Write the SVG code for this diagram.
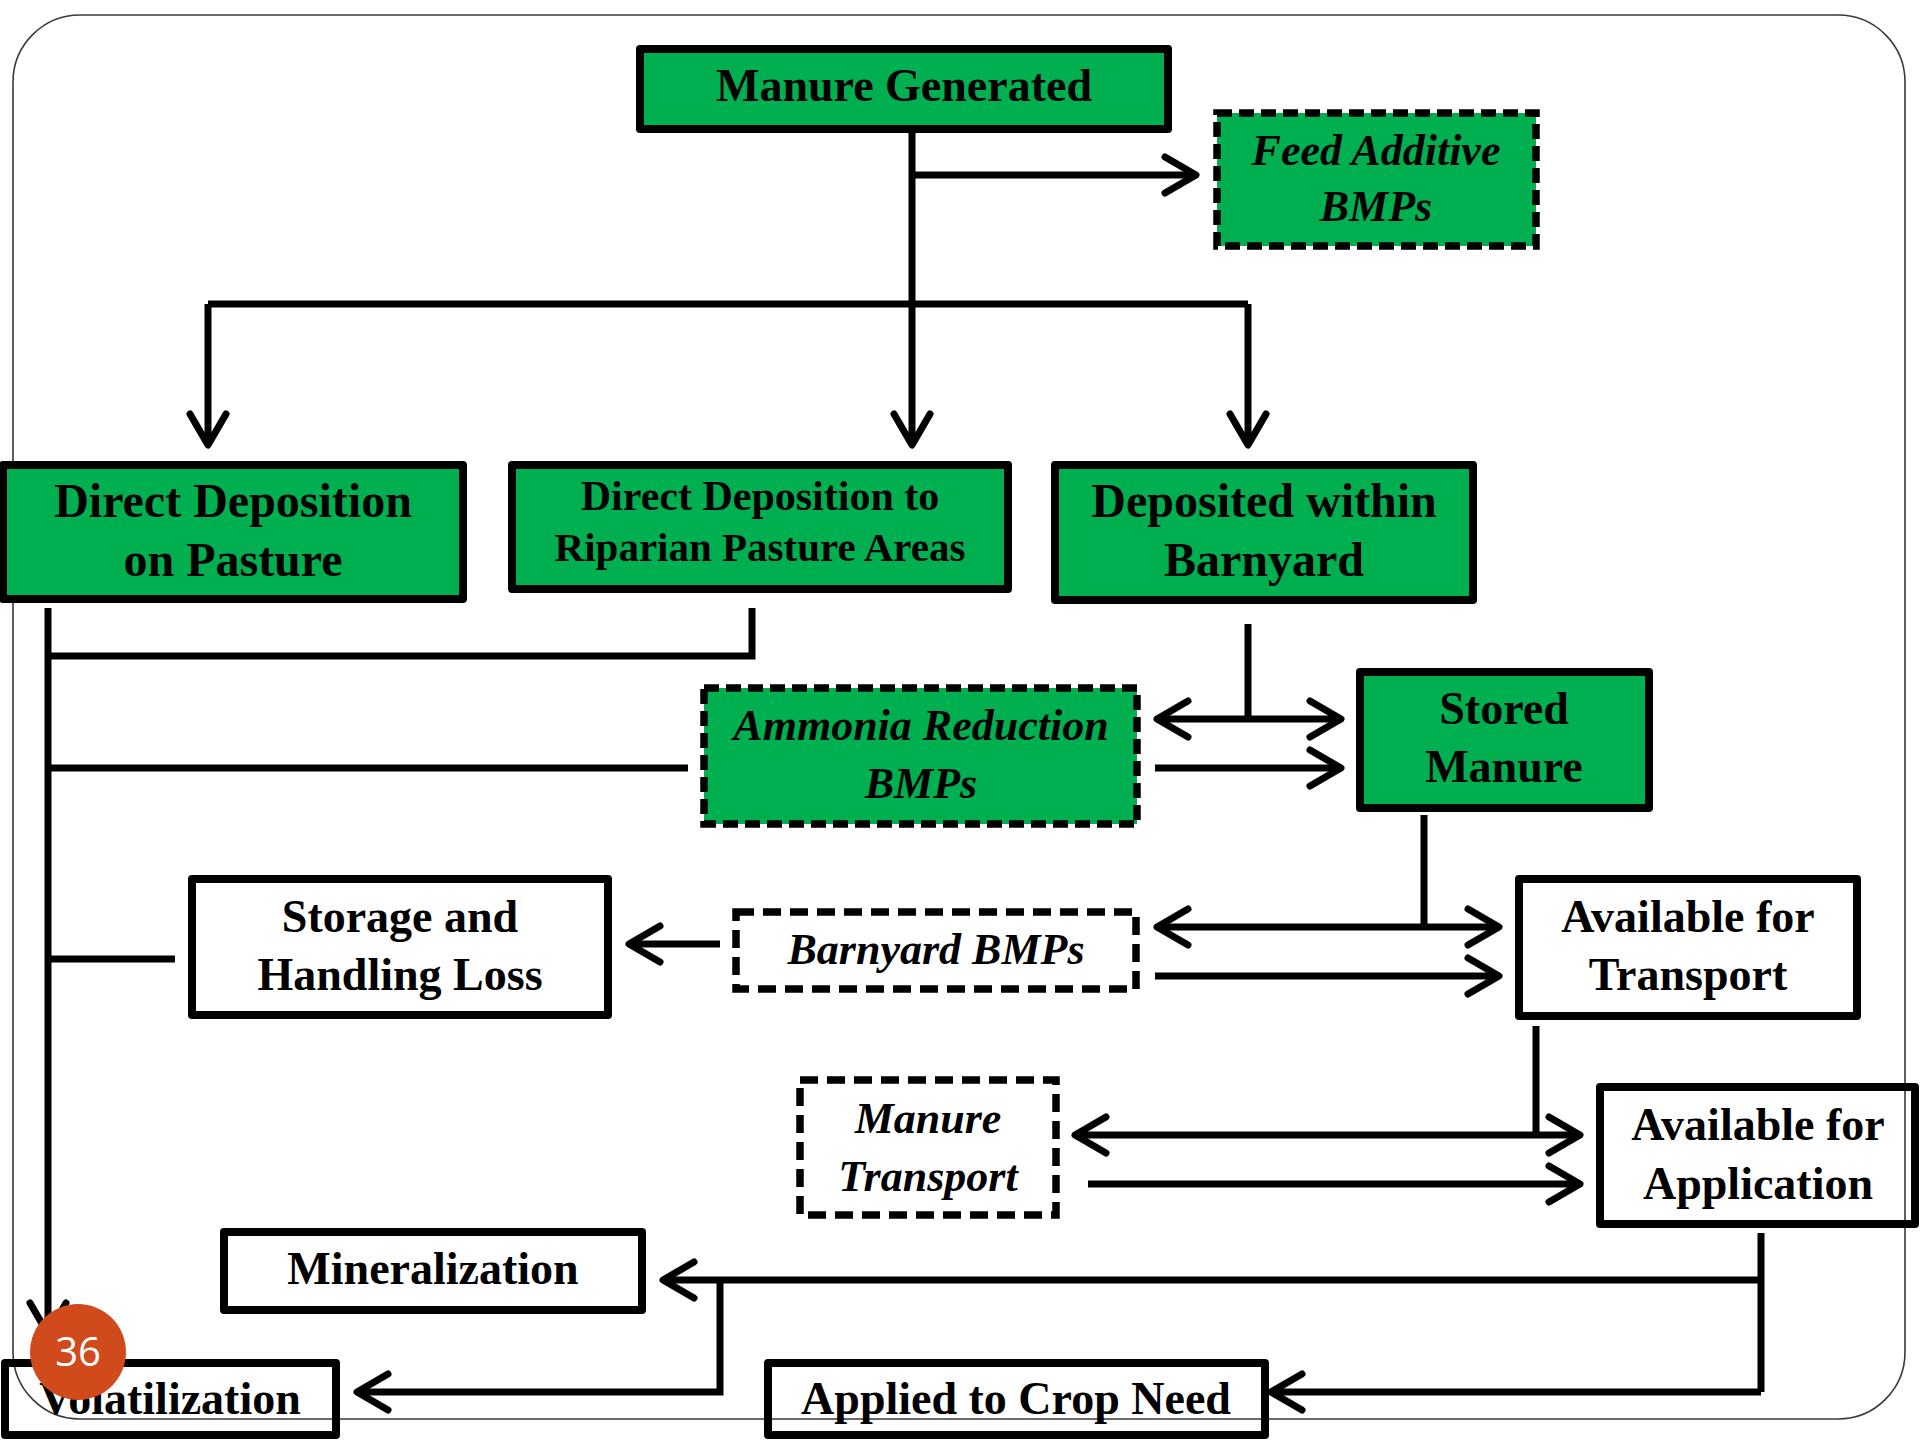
<svg xmlns="http://www.w3.org/2000/svg" width="1920" height="1440" viewBox="0 0 1920 1440">
<defs>
<style>
.frame{fill:none;stroke:#3a3a3a;stroke-width:1.6}
.g{fill:#00B050;stroke:#000;stroke-width:8;stroke-linejoin:round}
.w{fill:none;stroke:#000;stroke-width:8;stroke-linejoin:round}
.gd{fill:#00B050;stroke:#000;stroke-width:7.5;stroke-dasharray:15 7}
.wd{fill:none;stroke:#000;stroke-width:7.5;stroke-dasharray:18 9}
.t{font-family:"Liberation Serif","Times New Roman",serif;font-weight:bold;font-size:46px;fill:#000;text-anchor:middle}
.ti{font-family:"Liberation Serif","Times New Roman",serif;font-weight:bold;font-style:italic;font-size:44px;fill:#000;text-anchor:middle}
.c{fill:none;stroke:#000;stroke-width:7;stroke-linejoin:miter}
.a{marker-end:url(#ah)}
.aa{marker-start:url(#ah);marker-end:url(#ah)}
</style>
<marker id="ah" markerUnits="userSpaceOnUse" markerWidth="80" markerHeight="80" viewBox="-40 -40 80 80" refX="0" refY="0" orient="auto-start-reverse" overflow="visible">
<path d="M-31,-18 L0,0 L-31,18" fill="none" stroke="#000" stroke-width="7" stroke-linecap="round" stroke-linejoin="round"/>
</marker>
</defs>
<rect class="frame" x="13" y="15" width="1892" height="1404" rx="67" ry="67"/>
<g id="connectors">
<path class="c a" d="M912,129 V445"/>
<path class="c a" d="M912,175 H1196"/>
<path class="c" d="M208,304 H1248"/>
<path class="c a" d="M208,304 V445"/>
<path class="c a" d="M1248,304 V445"/>
<path class="c a" d="M48,608 V1334"/>
<path class="c" d="M752,608 V656 H48"/>
<path class="c" d="M48,768 H688"/>
<path class="c" d="M48,959 H175"/>
<path class="c" d="M1248,624 V719"/>
<path class="c aa" d="M1157,719 H1341"/>
<path class="c a" d="M1155,768 H1341"/>
<path class="c" d="M1424,815 V927"/>
<path class="c aa" d="M1157,927 H1499"/>
<path class="c a" d="M1155,976 H1499"/>
<path class="c a" d="M720,944 H629"/>
<path class="c" d="M1536,1026 V1135"/>
<path class="c aa" d="M1075,1135 H1580"/>
<path class="c a" d="M1088,1184 H1580"/>
<path class="c" d="M1761,1233 V1392"/>
<path class="c a" d="M1761,1280 H663"/>
<path class="c a" d="M1761,1392 H1271"/>
<path class="c a" d="M720,1280 V1392 H357"/>
</g>
<g id="manure-generated">
<rect class="g" x="640" y="49" width="528" height="80"/>
<text class="t" x="904" y="101">Manure Generated</text>
</g>
<g id="feed-additive-bmps">
<rect class="gd" x="1217" y="113" width="319" height="133"/>
<text class="ti" x="1376" y="165">Feed Additive</text>
<text class="ti" x="1376" y="221">BMPs</text>
</g>
<g id="direct-deposition-pasture">
<rect class="g" x="3" y="465" width="460" height="134"/>
<text class="t" x="233" y="517" style="font-size:48px">Direct Deposition</text>
<text class="t" x="233" y="576" style="font-size:48px">on Pasture</text>
</g>
<g id="direct-deposition-riparian">
<rect class="g" x="512" y="465" width="496" height="124"/>
<text class="t" x="760" y="510" style="font-size:42px">Direct Deposition to</text>
<text class="t" x="760" y="561" style="font-size:41px">Riparian Pasture Areas</text>
</g>
<g id="deposited-barnyard">
<rect class="g" x="1055" y="465" width="418" height="135"/>
<text class="t" x="1264" y="517" style="font-size:48px">Deposited within</text>
<text class="t" x="1264" y="576" style="font-size:48px">Barnyard</text>
</g>
<g id="ammonia-reduction-bmps">
<rect class="gd" x="704" y="688" width="433" height="136"/>
<text class="ti" x="921" y="740">Ammonia Reduction</text>
<text class="ti" x="921" y="798">BMPs</text>
</g>
<g id="stored-manure">
<rect class="g" x="1360" y="672" width="289" height="136"/>
<text class="t" x="1504" y="724">Stored</text>
<text class="t" x="1504" y="782">Manure</text>
</g>
<g id="storage-handling-loss">
<rect class="w" x="192" y="879" width="416" height="136"/>
<text class="t" x="400" y="932">Storage and</text>
<text class="t" x="400" y="990">Handling Loss</text>
</g>
<g id="barnyard-bmps">
<rect class="wd" x="736" y="912" width="400" height="77"/>
<text class="ti" x="936" y="964">Barnyard BMPs</text>
</g>
<g id="available-transport">
<rect class="w" x="1519" y="879" width="338" height="137"/>
<text class="t" x="1688" y="932">Available for</text>
<text class="t" x="1688" y="990">Transport</text>
</g>
<g id="manure-transport">
<rect class="wd" x="800" y="1080" width="256" height="135"/>
<text class="ti" x="928" y="1133">Manure</text>
<text class="ti" x="928" y="1191">Transport</text>
</g>
<g id="available-application">
<rect class="w" x="1600" y="1087" width="315" height="137"/>
<text class="t" x="1758" y="1140">Available for</text>
<text class="t" x="1758" y="1199">Application</text>
</g>
<g id="mineralization">
<rect class="w" x="224" y="1232" width="418" height="78"/>
<text class="t" x="433" y="1284">Mineralization</text>
</g>
<g id="volatilization">
<rect class="w" x="5" y="1363" width="331" height="72"/>
<text class="t" x="170" y="1414">Volatilization</text>
</g>
<g id="applied-crop-need">
<rect class="w" x="768" y="1363" width="497" height="72"/>
<text class="t" x="1016" y="1414">Applied to Crop Need</text>
</g>
<g id="page-number">
<circle cx="78" cy="1352" r="48" fill="#D04A1C"/>
<text x="78" y="1366" font-family="'Open Sans','Liberation Sans',sans-serif" font-size="40" fill="#fff" text-anchor="middle">36</text>
</g>
</svg>
